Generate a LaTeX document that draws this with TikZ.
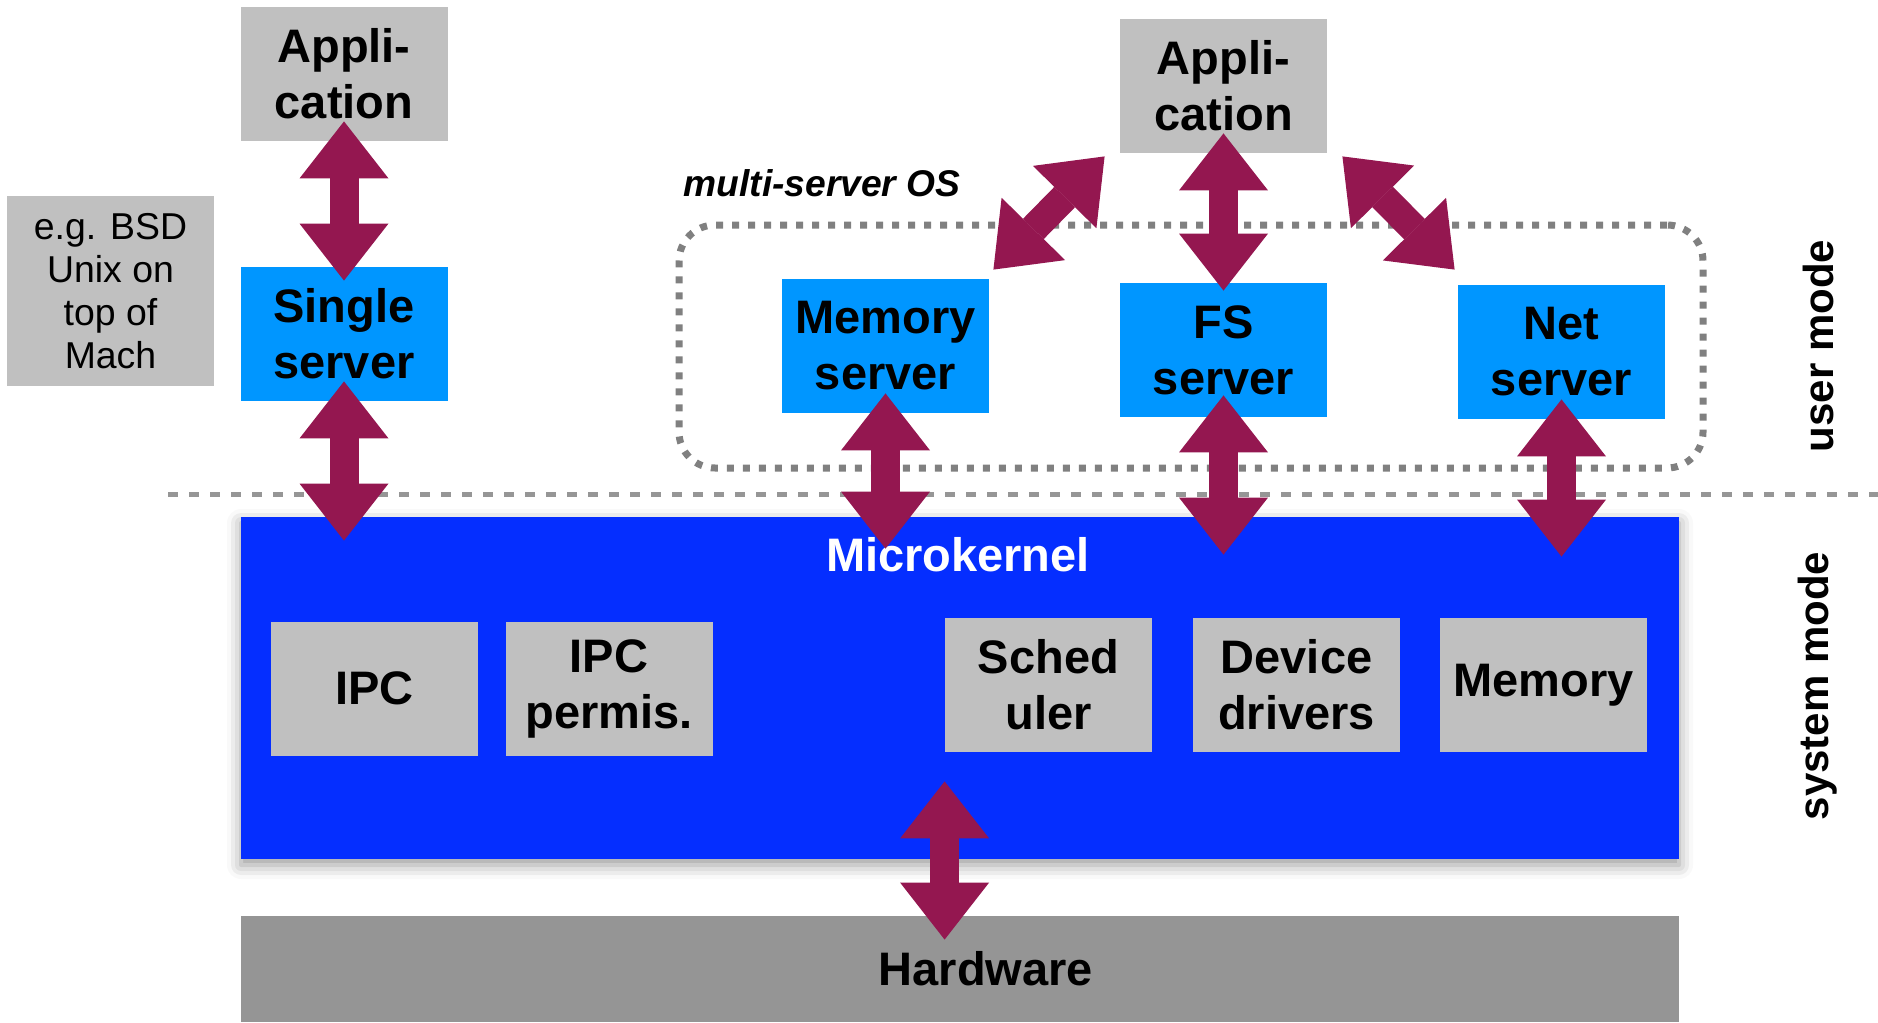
\documentclass[tikz,border=0pt]{standalone}
\usepackage{fontspec}
\setmainfont{Liberation Sans}
\usepackage{xcolor}
\usetikzlibrary{arrows.meta, calc, positioning, shadows.blur}
\definecolor{boxgray}{RGB}{192,192,192}
\definecolor{srvblue}{RGB}{0,150,255}
\definecolor{kernblue}{RGB}{5,46,255}
\definecolor{hwgray}{RGB}{149,149,149}
\definecolor{arrowred}{RGB}{148,23,80}
\definecolor{dotgray}{RGB}{128,128,128}
\definecolor{linegray}{RGB}{150,150,150}

\begin{document}
\begin{tikzpicture}[x=0.5pt, y=-0.5pt,
    box/.style={rectangle, inner sep=0pt, minimum width=103.5pt, minimum height=67pt, align=center, font=\fontsize{23.5}{28}\selectfont\bfseries},
    gbox/.style={box, fill=boxgray},
    sbox/.style={box, fill=srvblue},
    mode/.style={rotate=90, font=\fontsize{21}{24}\selectfont\bfseries},
    dbl/.style={draw=arrowred, line width=14.5pt, {Triangle[width=44.5pt,length=28.5pt,line width=0pt]}-{Triangle[width=44.5pt,length=28.5pt,line width=0pt]}}]

    \useasboundingbox (0,0) rectangle (1878,1022);

    % user side
    \node[gbox] (app1) at (344,74) {Appli-\\cation};
    \node[gbox, minimum height=95pt, font=\fontsize{18.7}{21.4}\selectfont] (bsd) at (110.5,291) {e.g. BSD\\Unix on\\top of\\Mach};
    \node[sbox] (single) at (344,334) {Single\\server};

    \node[font=\fontsize{18.6}{22}\selectfont\bfseries\itshape] (mslabel) at (822,183) {multi-server OS};
    \node[draw=dotgray, line width=3.5pt, dash pattern=on 3.5pt off 4.5pt, rounded corners=18pt, minimum width=512pt, minimum height=121.5pt] (os) at (1191,346.5) {};
    \node[gbox] (app2) at (1223.5,86) {Appli-\\cation};
    \node[sbox] (mem) at (885.5,346) {Memory\\server};
    \node[sbox] (fs) at (1223.5,350) {FS\\server};
    \node[sbox] (net) at (1561.5,352) {Net\\server};

    \node[mode] (user) at (1818,346) {user mode};
    \node[mode] (system) at (1818,686) {system mode};
    \coordinate (sepl) at (168,494);
    \coordinate (sepr) at (1878,494);
    \draw[linegray, line width=2.5pt, dash pattern=on 5pt off 5.5pt] (sepl) -- (sepr);

    % kernel side
    \node[rectangle, fill=kernblue, minimum width=719pt, minimum height=171pt, blur shadow={shadow xshift=0pt, shadow yshift=-3pt, shadow blur radius=7pt, shadow opacity=40}] (micro) at (960,688) {};
    \node[font=\fontsize{23.5}{28}\selectfont\bfseries, text=white] (mklabel) at (958,555) {Microkernel};
    \node[gbox] (ipc) at (374.5,688.5) {IPC};
    \node[gbox] (perm) at (609,688.5) {IPC\\permis.};
    \node[gbox] (sched) at (1048.5,685) {Sched\\uler};
    \node[gbox] (dev) at (1296.5,685) {Device\\drivers};
    \node[gbox] (memk) at (1543.5,685) {\raisebox{-2.5pt}{Memory}};
    \node[box, fill=hwgray, minimum width=719pt, minimum height=53pt] (hw) at (960,969) {\hspace*{26pt}Hardware};

    % connections
    \draw[dbl, shorten <=-10pt, shorten >=-7pt] (app1.south) -- (single.north);
    \draw[dbl, shorten <=-10pt, shorten >=-12pt] (single.south) -- (single.south |- micro.north);
    \draw[dbl, shorten <=-10pt, shorten >=-4pt] (app2.south) -- (fs.north);
    \draw[dbl] ($(app2.south west)+(-15,3)$) -- ($(mem.north east)+(4,-9)$);
    \draw[dbl] ($(app2.south east)+(15,3)$) -- ($(net.north west)+(-3,-15)$);
    \draw[dbl, shorten <=-10pt, shorten >=-16pt] (mem.south) -- (mem.south |- micro.north);
    \draw[dbl, shorten <=-11pt, shorten >=-19pt] (fs.south) -- (fs.south |- micro.north);
    \draw[dbl, shorten <=-10pt, shorten >=-20pt] (net.south) -- (net.south |- micro.north);
    \draw[dbl, shorten <=-39pt, shorten >=-12pt] (sched.south west |- micro.south) -- (sched.south west |- hw.north);
\end{tikzpicture}
\end{document}
